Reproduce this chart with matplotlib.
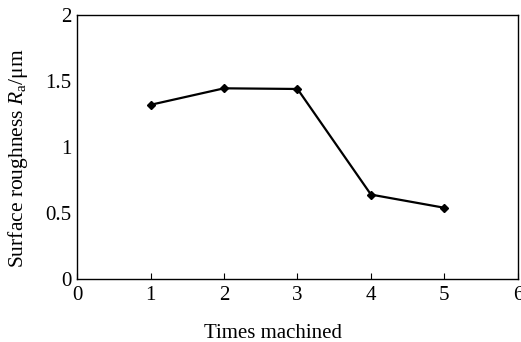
import matplotlib
matplotlib.use("Agg")
import matplotlib.pyplot as plt

times = [1, 2, 3, 4, 5]
roughness = [1.32, 1.445, 1.44, 0.64, 0.54]
xticks = [0, 1, 2, 3, 4, 5, 6]
yticks = [0, 0.5, 1, 1.5, 2]
yticklabels = ["0", "0.5", "1", "1.5", "2"]

plt.rcParams['font.family'] = ['Liberation Serif', 'DejaVu Serif']
plt.rcParams['mathtext.fontset'] = 'custom'
plt.rcParams['mathtext.it'] = 'Liberation Serif:italic'
plt.rcParams['mathtext.rm'] = 'Liberation Serif'

fig = plt.figure(figsize=(5.21, 3.42), dpi=100)
ax = fig.add_axes([0.148, 0.184, 0.846, 0.772])
ax.plot(times, roughness, color='black', linewidth=1.6, marker='D', markersize=4)
ax.set_xlim(0, 6)
ax.set_ylim(0, 2)
ax.set_xticks(xticks)
ax.set_yticks(yticks)
ax.set_yticklabels(yticklabels)
ax.tick_params(direction='in', length=4, labelsize=15, width=0.8)
ax.tick_params(axis='x', pad=5)
ax.tick_params(axis='y', length=0, pad=4)
for s in ax.spines.values():
    s.set_linewidth(1.0)
ax.set_xlabel("Times machined", fontsize=15)
ax.xaxis.set_label_coords(0.4447, -0.17)
ax.set_ylabel(r"Surface roughness $R_{\mathrm{a}}$/μm", fontsize=15.5)
ax.yaxis.set_label_coords(-0.107, 0.458)
fig.savefig("out.png", dpi=100)
